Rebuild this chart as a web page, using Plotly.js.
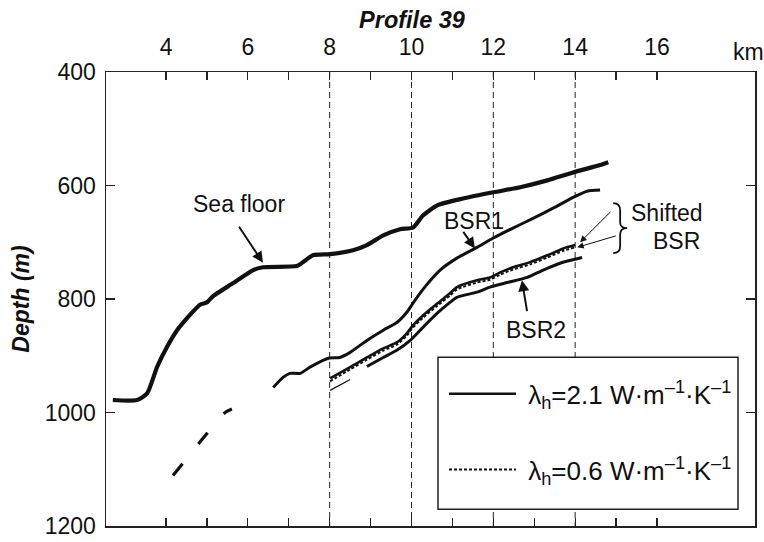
<!DOCTYPE html>
<html>
<head>
<meta charset="utf-8">
<script src="https://cdn.plot.ly/plotly-3.0.1.min.js"></script>
<style>html,body{margin:0;padding:0;background:#fff;}#chart{width:764px;height:542px;}</style>
</head>
<body>
<div id="chart"></div>
<script>
// ---- data (km, depth m) ----
var seaX = [2.70, 3.29, 3.54, 3.78, 4.02, 4.27, 4.51, 4.83, 5.00, 5.15, 5.64, 6.13, 6.37, 7.20, 7.35, 7.59, 8.01, 8.57, 8.91, 9.31, 9.72, 10.04, 10.28, 10.63, 11.26, 12.00, 12.66, 13.32, 13.95, 14.61, 14.81];
var seaY = [978, 978, 966, 920, 885, 855, 834, 810, 806, 795, 772, 749, 744, 742, 735, 723, 721, 714, 705, 688, 677, 674, 653, 635, 623, 612, 603, 591, 577, 564, 559];

var extX = [4.17, 5.00, 5.39, 5.61];
var extY = [1111, 1037, 1003, 994];

var bsr1X = [6.62, 6.86, 7.03, 7.28, 7.52, 7.99, 8.25, 8.50, 8.91, 9.31, 9.65, 9.89, 10.04, 10.28, 10.70, 11.11, 11.60, 11.99, 12.48, 12.97, 13.46, 13.95, 14.29, 14.61];
var bsr1Y = [956, 938, 931, 931, 920, 904, 903, 894, 873, 855, 841, 823, 807, 783, 749, 728, 709, 693, 675, 658, 640, 621, 610, 608];

var shiftX = [8.01, 8.50, 8.91, 9.31, 9.65, 9.89, 10.04, 10.28, 10.63, 10.94, 11.11, 11.60, 11.92, 12.17, 12.48, 12.90, 13.32, 13.71, 14.00];
var shift21Y = [940, 920, 903, 887, 876, 860, 846, 829, 808, 790, 779, 767, 762, 753, 744, 735, 723, 711, 705];
var shift06Y = [945, 924, 907, 891, 880, 864, 850, 833, 812, 794, 783, 771, 766, 757, 748, 739, 727, 715, 709];

var startX = [8.01, 8.50];
var startY = [961, 942];

var bsr2X = [8.91, 9.31, 9.65, 9.97, 10.28, 10.63, 10.94, 11.11, 11.60, 11.92, 12.34, 12.83, 13.22, 13.63, 14.17];
var bsr2Y = [919, 903, 890, 873, 850, 825, 806, 797, 788, 779, 771, 762, 749, 737, 727];

var refX = [8, 10, 12, 14];
var depthTicks = [400, 600, 800, 1000, 1200];
var kmTicks = [4, 5, 6, 7, 8, 9, 10, 11, 12, 13, 14, 15, 16];
var kmLabels = ['4', '', '6', '', '8', '', '10', '', '12', '', '14', '', '16'];

var legend21 = '&nbsp;λ<sub>h</sub>=2.1 W·m<sup>–1</sup>·K<sup>–1</sup>';
var legend06 = '&nbsp;λ<sub>h</sub>=0.6 W·m<sup>–1</sup>·K<sup>–1</sup>';

var FONT = 'Liberation Sans, Arial, sans-serif';
var INK = '#111';

var traces = [];
refX.forEach(function (v) {
  traces.push({x: [v, v], y: [depthTicks[0], depthTicks[depthTicks.length - 1]], mode: 'lines',
    line: {color: '#222', width: 1, dash: '6px,4px'}, showlegend: false, hoverinfo: 'skip'});
});
traces.push({x: seaX, y: seaY, mode: 'lines', line: {color: INK, width: 4.2, shape: 'spline', smoothing: 0.6}, showlegend: false});
traces.push({x: extX, y: extY, mode: 'lines', line: {color: INK, width: 3.2, dash: '15px,25px', shape: 'spline'}, showlegend: false});
traces.push({x: bsr1X, y: bsr1Y, mode: 'lines', line: {color: INK, width: 3, shape: 'spline', smoothing: 0.6}, showlegend: false});
traces.push({x: startX, y: startY, mode: 'lines', line: {color: INK, width: 1.2}, showlegend: false});
traces.push({x: bsr2X, y: bsr2Y, mode: 'lines', line: {color: INK, width: 3, shape: 'spline', smoothing: 0.6}, showlegend: false});
traces.push({x: shiftX, y: shift21Y, mode: 'lines', name: legend21, legendgroup: 'a',
  line: {color: INK, width: 2.6, shape: 'spline', smoothing: 0.6}});
traces.push({x: shiftX, y: shift06Y, mode: 'lines', name: legend06, legendgroup: 'b',
  line: {color: INK, width: 2, dash: '3px,2px', shape: 'spline', smoothing: 0.6}});

var arrowCommon = {showarrow: true, axref: 'x', ayref: 'y', arrowcolor: INK, arrowhead: 2, text: ''};
var annotations = [
  {xref: 'paper', yref: 'paper', x: 1.0 - 7 / 649, y: 1 + 20 / 454, text: 'km', showarrow: false,
    xanchor: 'center', yanchor: 'middle', font: {family: FONT, size: 23, color: INK}},
  {x: 5.78, y: 633, text: 'Sea floor', showarrow: false, font: {family: FONT, size: 23, color: INK}},
  Object.assign({x: 6.37, y: 736, ax: 5.76, ay: 670, arrowwidth: 2, arrowsize: 1.1}, arrowCommon),
  {x: 11.53, y: 662, text: 'BSR1', showarrow: false, font: {family: FONT, size: 23, color: INK}},
  Object.assign({x: 11.55, y: 711, ax: 11.24, ay: 679, arrowwidth: 2, arrowsize: 1.1}, arrowCommon),
  {x: 13.05, y: 855, text: 'BSR2', showarrow: false, font: {family: FONT, size: 23, color: INK}},
  Object.assign({x: 12.70, y: 767, ax: 12.83, ay: 824, arrowwidth: 2, arrowsize: 1.1}, arrowCommon),
  {x: 16.25, y: 649, text: 'Shifted', showarrow: false, font: {family: FONT, size: 23, color: INK}},
  {x: 16.47, y: 697, text: 'BSR', showarrow: false, font: {family: FONT, size: 23, color: INK}},
  Object.assign({x: 14.12, y: 700, ax: 14.90, ay: 644, arrowwidth: 1, arrowsize: 1.3}, arrowCommon),
  Object.assign({x: 14.05, y: 709, ax: 15.03, ay: 688, arrowwidth: 1, arrowsize: 1.3}, arrowCommon)
];

var shapes = [
  {type: 'path', xref: 'x', yref: 'y', line: {color: INK, width: 1.8},
    path: 'M 14.93,631 Q 15.10,631 15.10,644 L 15.10,665 Q 15.10,675 15.27,675 Q 15.10,675 15.10,686 L 15.10,707 Q 15.10,719 14.93,719'},
  // legend frame (opaque, hides the reference lines behind it)
  {type: 'rect', xref: 'paper', yref: 'paper', layer: 'above',
    x0: (438 - 106) / 649, x1: (738 - 106) / 649, y0: (525.7 - 509) / 454, y1: (525.7 - 357) / 454,
    fillcolor: '#fff', line: {color: '#222', width: 1.5}}
];

var layout = {
  width: 764, height: 542,
  margin: {l: 106, r: 9, t: 72, b: 16},
  paper_bgcolor: '#fff', plot_bgcolor: '#fff',
  font: {family: FONT, color: INK, size: 23},
  title: {text: 'Profile 39', xref: 'container', x: 412 / 764, xanchor: 'center',
    yref: 'container', y: 1 - 20 / 542, yanchor: 'middle',
    font: {family: FONT, size: 23.5, weight: 'bold', style: 'italic', color: INK}},
  xaxis: {range: [2.533, 18.396], side: 'top', tickmode: 'array', tickvals: kmTicks, ticktext: kmLabels,
    ticks: 'inside', ticklen: 8, tickwidth: 1.3, tickcolor: '#222', showline: true, linecolor: '#222', linewidth: 1.5,
    mirror: 'allticks', showgrid: false, zeroline: false, ticklabelstandoff: 6,
    tickfont: {family: FONT, size: 23, color: INK}},
  yaxis: {range: [1200, 400], tickmode: 'array', tickvals: depthTicks,
    ticks: 'inside', ticklen: 9, tickwidth: 1.3, tickcolor: '#222', showline: true, linecolor: '#222', linewidth: 1.5,
    mirror: 'allticks', showgrid: false, zeroline: false, ticklabelstandoff: 4,
    tickfont: {family: FONT, size: 23, color: INK},
    title: {text: 'Depth (m)', standoff: 8, font: {family: FONT, size: 23, weight: 'bold', style: 'italic', color: INK}}},
  showlegend: true,
  legend: {x: (444 - 106) / 649, y: (525.7 - 370) / 454, xanchor: 'left', yanchor: 'top',
    bgcolor: 'rgba(0,0,0,0)', borderwidth: 0, itemwidth: 67, tracegroupgap: 39,
    font: {family: FONT, size: 26, color: INK}},
  annotations: annotations,
  shapes: shapes
};

Plotly.newPlot('chart', traces, layout, {staticPlot: true, displayModeBar: false});
</script>
</body>
</html>
